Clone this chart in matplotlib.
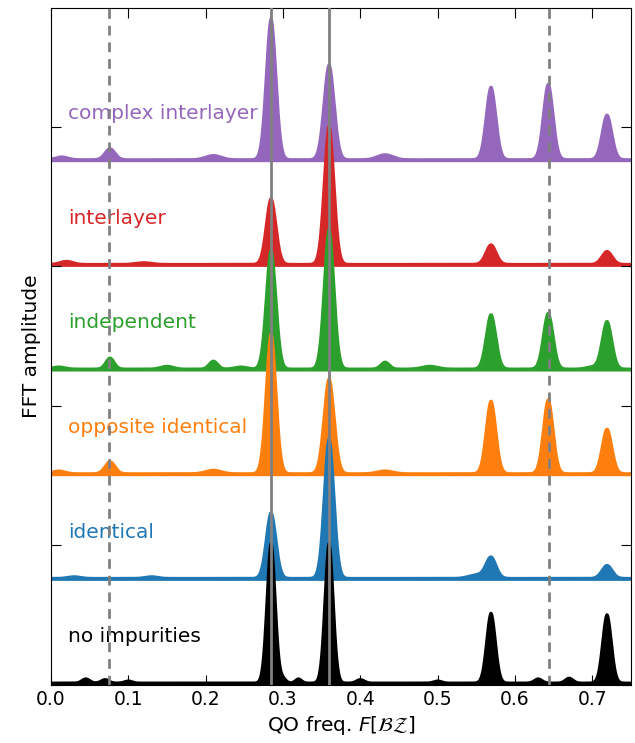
import numpy as np
import matplotlib
matplotlib.use("Agg")
import matplotlib.pyplot as plt
from matplotlib.ticker import MultipleLocator

# Fundamental frequencies (in units of the BZ)
F1 = 0.2846
F2 = 0.3596

labels = ["complex interlayer", "interlayer", "independent",
          "opposite identical", "identical", "no impurities"]
colors = ["#9467bd", "#d62728", "#2ca02c", "#ff7f0e", "#1f77b4", "black"]

# Peaks: (centre, height, width)
peaks_complex = [(0.014, 0.02, 0.008), (0.0763, 0.079, 0.0065), (0.21, 0.03, 0.01),
                 (F1, 1.01, 0.0064), (F2, 0.68, 0.0067), (0.432, 0.036, 0.01),
                 (0.569, 0.52, 0.0064), (0.643, 0.54, 0.0064), (0.719, 0.32, 0.0064)]
peaks_inter = [(0.02, 0.022, 0.008), (0.12, 0.012, 0.01), (F1, 0.47, 0.0064),
               (F2, 0.99, 0.0064), (0.569, 0.14, 0.0067), (0.719, 0.093, 0.0067)]
peaks_indep = [(0.01, 0.015, 0.008), (0.0763, 0.079, 0.0055), (0.15, 0.02, 0.008),
               (0.21, 0.057, 0.0055), (0.245, 0.015, 0.008), (F1, 0.85, 0.0064),
               (F2, 1.0, 0.0064), (0.432, 0.05, 0.0055), (0.49, 0.02, 0.01),
               (0.569, 0.39, 0.0064), (0.643, 0.40, 0.0064), (0.7, 0.015, 0.008),
               (0.719, 0.34, 0.0064)]
peaks_opp = [(0.01, 0.02, 0.008), (0.0763, 0.086, 0.0065), (0.21, 0.025, 0.01),
             (F1, 1.0, 0.0064), (F2, 0.68, 0.0067), (0.432, 0.02, 0.01),
             (0.569, 0.52, 0.0064), (0.643, 0.53, 0.0064), (0.719, 0.32, 0.0064)]
peaks_ident = [(0.03, 0.012, 0.008), (0.13, 0.012, 0.008), (F1, 0.47, 0.0064),
               (F2, 1.0, 0.0064), (0.55, 0.025, 0.01), (0.569, 0.15, 0.0067),
               (0.719, 0.093, 0.0067)]
peaks_clean = [(0.045, 0.03, 0.005), (0.07, 0.025, 0.005), (0.1, 0.015, 0.005),
               (0.3, 0.03, 0.004), (0.32, 0.03, 0.004), (0.4, 0.025, 0.005),
               (0.5, 0.015, 0.005), (0.63, 0.03, 0.005), (0.67, 0.035, 0.005),
               (F1, 1.0, 0.0055), (F2, 1.0, 0.0055), (0.569, 0.5, 0.0058),
               (0.719, 0.49, 0.0058)]

all_peaks = [peaks_complex, peaks_inter, peaks_indep, peaks_opp, peaks_ident, peaks_clean]
offsets = [3.75, 3.0, 2.25, 1.5, 0.75, 0.0]
floor_level = 0.016

x = np.linspace(0, 0.75, 2000)

fig = plt.figure(figsize=(6.35, 7.43), dpi=100)
ax = fig.add_axes([0.0803, 0.078, 0.9134, 0.911])

for lab, col, pk, off in zip(labels, colors, all_peaks, offsets):
    y = np.full_like(x, floor_level)
    for c, h, w in pk:
        y = y + h * np.exp(-0.5 * ((x - c) / w) ** 2)
    ax.fill_between(x, off, off + y, color=col, lw=0)
    ax.plot(x, off + y, color=col, lw=1.8)
    ax.text(0.022, off + 0.345, lab, color=col, fontsize=14.5, va="center", ha="left")

for f in [F1, F2]:
    ax.axvline(f, color="gray", lw=2, zorder=10)
for f in [F2 - F1, F1 + F2]:
    ax.axvline(f, color="gray", lw=2, ls=(0, (3.5, 2.5)), zorder=10)

ax.set_xlim(0, 0.75)
ax.set_ylim(0, 4.85)
ax.xaxis.set_major_locator(MultipleLocator(0.1))
ax.yaxis.set_major_locator(MultipleLocator(1.0))
ax.set_yticklabels([])
ax.tick_params(direction="in", top=True, right=True, length=7, labelsize=13.5)
ax.set_xlabel(r"QO freq. $F[\mathcal{BZ}]$", fontsize=14.5)
ax.set_ylabel("FFT amplitude", fontsize=14.5)

fig.savefig("out.png", dpi=100)
